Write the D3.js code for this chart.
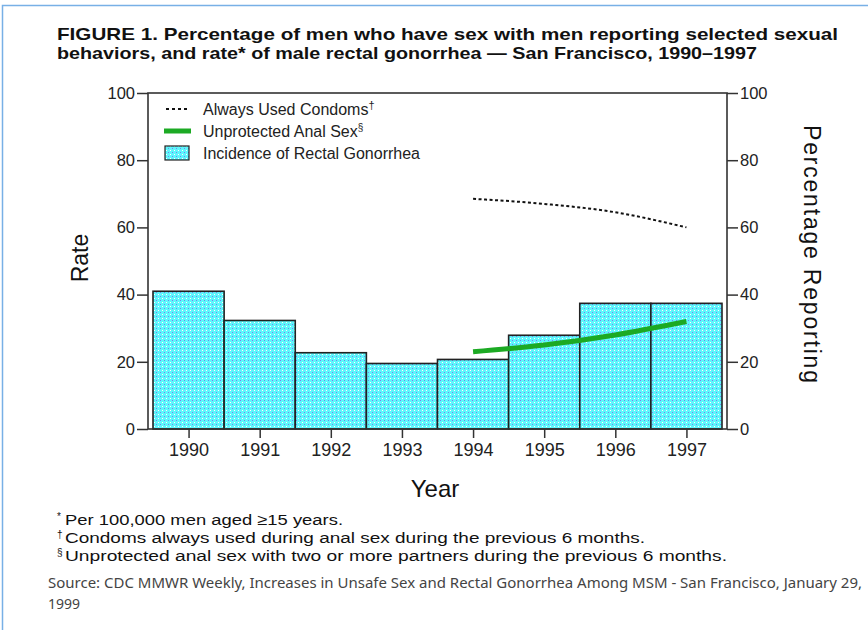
<!DOCTYPE html>
<html>
<head>
<meta charset="utf-8">
<script src="https://cdn.jsdelivr.net/npm/d3@7"></script>
<style>
  body { margin: 0; background: #fff; }
  svg { display: block; font-family: "Liberation Sans", Arial, sans-serif; }
  .axis text { font-size: 16.5px; fill: #222; }
  .axis line { stroke: #333; stroke-width: 1.5px; }
  .axis .domain { display: none; }
</style>
</head>
<body>
<div id="chart"></div>
<script>
// data
const years = [1990, 1991, 1992, 1993, 1994, 1995, 1996, 1997];
const gonorrheaRate = [41, 32.3, 22.7, 19.5, 20.7, 27.9, 37.4, 37.4];
const surveyYears = [1994, 1995, 1996, 1997];
const alwaysCondoms = [68.5, 67, 64.5, 60];
const unprotectedSex = [23, 25, 28, 32];
const yTicks = [0, 20, 40, 60, 80, 100];

const width = 868, height = 630;
const plot = {left: 148, right: 727, top: 93, bottom: 429};

const svg = d3.select('#chart').append('svg')
    .attr('width', width).attr('height', height);

// pattern for the bars (cyan with sparse blue / white dots)
const defs = svg.append('defs');
const pat = defs.append('pattern').attr('id', 'dots')
    .attr('patternUnits', 'userSpaceOnUse').attr('width', 4).attr('height', 4);
pat.append('rect').attr('width', 4).attr('height', 4).attr('fill', '#5ef6fc');
pat.append('rect').attr('x', 0).attr('y', 0).attr('width', 1).attr('height', 1).attr('fill', '#7484f0');
pat.append('rect').attr('x', 2).attr('y', 2).attr('width', 1).attr('height', 1).attr('fill', '#ffffff');

// page border (light blue, top + left)
svg.append('path').attr('d', `M2.5,${height} V5.5 H${width}`)
    .attr('fill', 'none').attr('stroke', '#78b0e6').attr('stroke-width', 1.5);

// title
const title = svg.append('g').attr('font-weight', 'bold').attr('font-size', 17).attr('fill', '#111');
title.append('text').attr('x', 57).attr('y', 39.5).attr('textLength', 781).attr('lengthAdjust', 'spacingAndGlyphs')
    .text('FIGURE 1. Percentage of men who have sex with men reporting selected sexual');
title.append('text').attr('x', 57).attr('y', 59).attr('textLength', 700).attr('lengthAdjust', 'spacingAndGlyphs')
    .text('behaviors, and rate* of male rectal gonorrhea \u2014 San Francisco, 1990\u20131997');

// scales
const x = d3.scaleLinear().domain([1989.5, 1997.5]).range([153, 722]);
const y = d3.scaleLinear().domain([0, 100]).range([plot.bottom, plot.top]);

// bars
svg.append('g').selectAll('rect').data(years).join('rect')
    .attr('x', (d) => x(d - 0.5))
    .attr('width', (d) => x(d + 0.5) - x(d - 0.5))
    .attr('y', (d, i) => y(gonorrheaRate[i]))
    .attr('height', (d, i) => y(0) - y(gonorrheaRate[i]))
    .attr('fill', 'url(#dots)')
    .attr('stroke', '#222').attr('stroke-width', 1.6);

// lines
const surveyLine = d3.line()
    .x((d, i) => x(surveyYears[i]))
    .y((d) => y(d))
    .curve(d3.curveMonotoneX);

svg.append('path').datum(alwaysCondoms)
    .attr('d', surveyLine)
    .attr('fill', 'none').attr('stroke', '#111')
    .attr('stroke-width', 2).attr('stroke-dasharray', '3,2.5');

svg.append('path').datum(unprotectedSex)
    .attr('d', surveyLine)
    .attr('fill', 'none').attr('stroke', '#1caa24')
    .attr('stroke-width', 5);

// frame
svg.append('rect')
    .attr('x', plot.left).attr('y', plot.top)
    .attr('width', plot.right - plot.left).attr('height', plot.bottom - plot.top)
    .attr('fill', 'none').attr('stroke', '#333').attr('stroke-width', 1.6);

// axes
svg.append('g').attr('class', 'axis')
    .attr('transform', `translate(${plot.left},0)`)
    .call(d3.axisLeft(y).tickValues(yTicks).tickSize(11).tickPadding(2));

svg.append('g').attr('class', 'axis')
    .attr('transform', `translate(${plot.right},0)`)
    .call(d3.axisRight(y).tickValues(yTicks).tickSize(11).tickPadding(2));

const xAxis = svg.append('g').attr('class', 'axis')
    .attr('transform', `translate(0,${plot.bottom})`)
    .call(d3.axisBottom(x).tickValues(years).tickSize(9).tickPadding(5).tickFormat(d3.format('d')));
xAxis.selectAll('text').style('font-size', '18px');

// axis titles
svg.append('text').attr('transform', 'translate(88,258) rotate(-90)')
    .attr('text-anchor', 'middle').attr('font-size', 23).attr('fill', '#111').text('Rate');

svg.append('text').attr('transform', 'translate(804,254) rotate(90)')
    .attr('text-anchor', 'middle').attr('font-size', 23).attr('fill', '#111')
    .attr('textLength', 258).attr('lengthAdjust', 'spacing')
    .text('Percentage Reporting');

svg.append('text').attr('x', 435).attr('y', 497)
    .attr('text-anchor', 'middle').attr('font-size', 24).attr('fill', '#111').text('Year');

// legend
const legend = svg.append('g').attr('font-size', 16).attr('fill', '#222');
const legendRows = [109, 131, 153];

legend.append('line').attr('x1', 166).attr('x2', 188).attr('y1', legendRows[0]).attr('y2', legendRows[0])
    .attr('stroke', '#111').attr('stroke-width', 2).attr('stroke-dasharray', '3,3');
legend.append('line').attr('x1', 164).attr('x2', 191).attr('y1', legendRows[1]).attr('y2', legendRows[1])
    .attr('stroke', '#1caa24').attr('stroke-width', 5);
legend.append('rect').attr('x', 165).attr('y', legendRows[2] - 7).attr('width', 24).attr('height', 14)
    .attr('fill', 'url(#dots)').attr('stroke', '#222').attr('stroke-width', 1.2);

const l1 = legend.append('text').attr('x', 203).attr('y', legendRows[0] + 5.5);
l1.append('tspan').text('Always Used Condoms');
l1.append('tspan').attr('dy', -6).attr('font-size', 11).text('\u2020');
const l2 = legend.append('text').attr('x', 203).attr('y', legendRows[1] + 5.5);
l2.append('tspan').text('Unprotected Anal Sex');
l2.append('tspan').attr('dy', -6).attr('font-size', 10).text('\u00a7');
legend.append('text').attr('x', 203).attr('y', legendRows[2] + 5.5).text('Incidence of Rectal Gonorrhea');

// footnotes
const notes = svg.append('g').attr('font-size', 15.5).attr('fill', '#111');
const notesData = [
    ['*', 'Per 100,000 men aged \u226515 years.', 525, 278],
    ['\u2020', 'Condoms always used during anal sex during the previous 6 months.', 543, 580],
    ['\u00a7', 'Unprotected anal sex with two or more partners during the previous 6 months.', 561, 662]
];
notesData.forEach(([mark, txt, yy, len]) => {
    const t = notes.append('text').attr('x', 57).attr('y', yy);
    t.append('tspan').attr('font-size', 10).attr('dy', -5).text(mark);
    t.append('tspan').attr('x', 65).attr('dy', 5)
        .attr('textLength', len).attr('lengthAdjust', 'spacingAndGlyphs').text(txt);
});

// source
const src = svg.append('g').attr('font-family', '"Noto Sans", "Open Sans", sans-serif')
    .attr('font-size', 14).attr('fill', '#444');
src.append('text').attr('x', 48).attr('y', 588).attr('textLength', 814).attr('lengthAdjust', 'spacingAndGlyphs')
    .text('Source: CDC MMWR Weekly, Increases in Unsafe Sex and Rectal Gonorrhea Among MSM - San Francisco, January 29,');
src.append('text').attr('x', 48).attr('y', 609).text('1999');
</script>
</body>
</html>
